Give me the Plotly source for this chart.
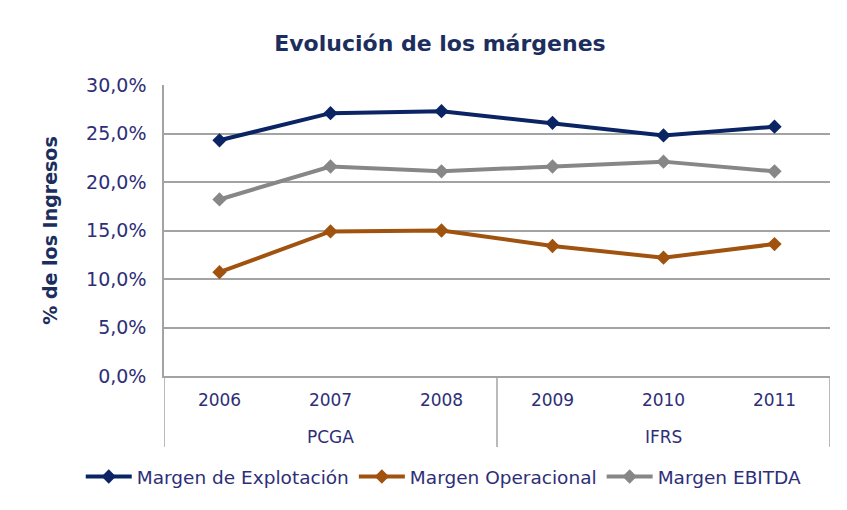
import plotly.graph_objects as go

years = ["2006", "2007", "2008", "2009", "2010", "2011"]
groups = ["PCGA", "PCGA", "PCGA", "IFRS", "IFRS", "IFRS"]
explotacion = [0.243, 0.271, 0.273, 0.261, 0.248, 0.257]
operacional = [0.107, 0.149, 0.150, 0.134, 0.122, 0.136]
ebitda = [0.182, 0.216, 0.211, 0.216, 0.221, 0.211]
names = ["Margen de Explotación", "Margen Operacional", "Margen EBITDA"]
colors = ["#0A2464", "#A0520F", "#878787"]
tick_vals = [0, 0.05, 0.10, 0.15, 0.20, 0.25, 0.30]
tick_text = ["0,0%", "5,0%", "10,0%", "15,0%", "20,0%", "25,0%", "30,0%"]

fig = go.Figure()
for vals, name, col in zip([explotacion, operacional, ebitda], names, colors):
    fig.add_trace(go.Scatter(
        x=years, y=vals, name=name, mode="lines+markers",
        line=dict(color=col, width=4),
        marker=dict(symbol="diamond", size=11, color=col),
    ))

font_col = "#2E2E78"
grid_col = "#A3A3A3"
fig.update_layout(
    width=847, height=510,
    margin=dict(l=156, r=25, t=77, b=142, autoexpand=False),
    paper_bgcolor="white", plot_bgcolor="white",
    title=dict(text="<b>Evolución de los márgenes</b>", x=0.51, xanchor="center",
               y=0.93, yanchor="middle",
               font=dict(family="DejaVu Sans", size=22, color="#1C2E5E")),
    font=dict(family="DejaVu Sans", size=18, color=font_col),
    legend=dict(orientation="h", x=-0.125, xanchor="left", y=-0.347, yanchor="middle",
                font=dict(size=18.5, color=font_col), tracegroupgap=0, itemwidth=46),
    showlegend=True,
)
fig.update_yaxes(
    range=[0, 0.30], tickvals=tick_vals, ticktext=tick_text,
    showgrid=True, gridcolor=grid_col, gridwidth=1.5,
    showline=True, linecolor=grid_col, linewidth=1.5,
    ticks="outside", ticklen=12, tickcolor="rgba(0,0,0,0)",
    tickfont=dict(size=19, color=font_col),
    title=dict(text="<b>% de los Ingresos</b>", standoff=23,
               font=dict(size=19, color="#1C2E5E")),
    zeroline=False,
)
fig.update_xaxes(
    type="category", range=[-0.5, len(years) - 0.5],
    showline=True, linecolor=grid_col, linewidth=1.5,
    showgrid=False,
    ticks="outside", ticklen=8, tickcolor="rgba(0,0,0,0)",
    tickfont=dict(size=17, color=font_col),
)

# group labels (centred on each group's categories) and group dividers
group_names = list(dict.fromkeys(groups))
bounds = [-0.5]
for g in group_names:
    idx = [i for i, gg in enumerate(groups) if gg == g]
    mid = (idx[0] + idx[-1]) / 2
    fig.add_annotation(x=mid, y=-0.21, xref="x", yref="paper", text=g, showarrow=False,
                       yanchor="middle", font=dict(size=17, color=font_col))
    bounds.append(idx[-1] + 0.5)
for b in bounds:
    fig.add_shape(type="line", xref="x", yref="paper", x0=b, x1=b, y0=0, y1=-0.244,
                  line=dict(color=grid_col, width=1.5))

fig.write_html("out.html")
